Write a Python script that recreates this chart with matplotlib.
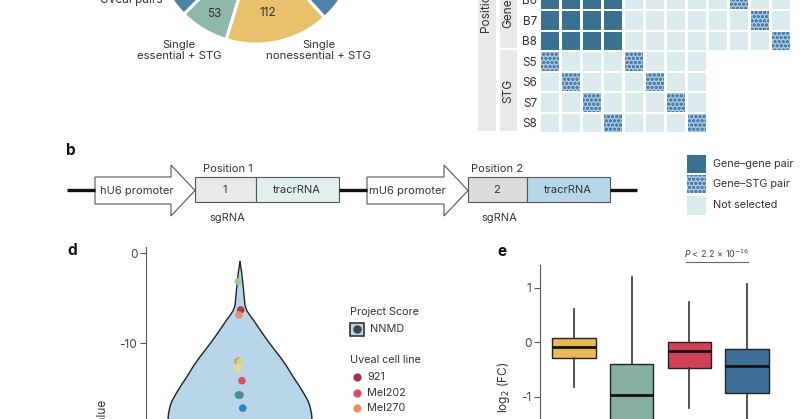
import matplotlib
matplotlib.use('Agg')
import matplotlib.pyplot as plt
from matplotlib.patches import Rectangle, Polygon

plt.rcParams['font.family'] = ['Inter', 'DejaVu Sans']
plt.rcParams['axes.unicode_minus'] = False
plt.rcParams['hatch.linewidth'] = 0.9

# ---------------- data ----------------
pie_labels = ['Single essential + STG', 'Single nonessential + STG', 'Other pairs', 'Uveal pairs']
pie_values = [53, 112, 258, 257]
pie_colors = ['#8fb8aa', '#e9c06b', '#4d82aa', '#4d82aa']

hm_rows = ['B6', 'B7', 'B8', 'S5', 'S6', 'S7', 'S8']
# 0 = none, 1 = not selected, 2 = gene-gene pair, 3 = gene-STG pair
hm_matrix = [
    [2, 2, 2, 2, 1, 1, 1, 1, 1, 3, 1, 1],
    [2, 2, 2, 2, 1, 1, 1, 1, 1, 1, 3, 1],
    [2, 2, 2, 2, 1, 1, 1, 1, 1, 1, 1, 3],
    [3, 1, 1, 1, 3, 1, 1, 1, 0, 0, 0, 0],
    [1, 3, 1, 1, 1, 3, 1, 1, 0, 0, 0, 0],
    [1, 1, 3, 1, 1, 1, 3, 1, 0, 0, 0, 0],
    [1, 1, 1, 3, 1, 1, 1, 3, 0, 0, 0, 0],
]

# violin outline (value, half width)
violin_vals = [-0.93, -2.0, -3.0, -4.0, -5.0, -5.8, -6.4, -6.9, -7.5, -8.5, -9.6,
               -10.5, -11.5, -12.6, -13.7, -14.7, -15.6, -16.4, -17.0, -17.8, -18.5, -19.5]
violin_half = [0.0, 0.016, 0.027, 0.037, 0.045, 0.053, 0.074, 0.106, 0.148, 0.212, 0.286,
               0.350, 0.424, 0.498, 0.562, 0.626, 0.679, 0.721, 0.742, 0.758, 0.764, 0.764]

pt_cells = ['Mel285', '921', 'Mel270', 'Mel270b', 'MP41', 'Mel290', 'Mel202', 'MP46', 'OMM1', '92.1b']
pt_x = [-0.018, 0.007, -0.011, -0.021, 0.0, -0.021, 0.021, 0.0, -0.018, 0.029]
pt_y = [-3.15, -6.3, -6.85, -12.0, -12.1, -12.75, -14.15, -15.75, -15.75, -17.2]
pt_colors = ['#9cc99a', '#a5324c', '#f08c5c', '#f08c5c', '#d5d98a', '#f2d98c',
             '#e04a58', '#7b6bb0', '#3e9a82', '#2b7fc4']

legend_cells = ['921', 'Mel202', 'Mel270']
legend_colors = ['#a5324c', '#e04a58', '#f08c5c']

box_colors = ['#e8b85a', '#85b0a0', '#d0405a', '#3d6f98']
box_med = [-0.08, -0.96, -0.165, -0.43]
box_q1 = [-0.28, -1.6, -0.47, -0.935]
box_q3 = [0.073, -0.40, 0.01, -0.12]
box_wlo = [-0.81, -2.8, -1.21, -2.2]
box_whi = [0.60, 1.20, 0.74, 1.07]

W, H = 800, 419
fig = plt.figure(figsize=(8, 4.19), dpi=100)

def fax(x0, y0, x1, y1, **kw):
    return fig.add_axes([x0 / W, 1 - y1 / H, (x1 - x0) / W, (y1 - y0) / H], **kw)

TXT = '#333333'
DARK = '#3b7190'
LIGHT = '#dbeaed'
HFACE = '#a9c6dd'
HEDGE = '#4a80b0'

# overlay for schematic elements (drawn on top of the other axes)
ov = fax(0, 0, W, H)
ov.set_xlim(0, W)
ov.set_ylim(H, 0)
ov.axis('off')
ov.set_zorder(10)

# ---------------- pie ----------------
pa = fax(154, -160, 358, 44)
pa.pie(pie_values, colors=pie_colors, startangle=225, counterclock=True,
       wedgeprops=dict(edgecolor='white', linewidth=2.2))
pa.set_xlim(-1.0, 1.0)
pa.set_ylim(-1.0, 1.0)
ov.text(214, 14, '53', ha='center', va='center', fontsize=8.5, color=TXT)
ov.text(268, 13, '112', ha='center', va='center', fontsize=8.5, color=TXT)
ov.text(163, 0, 'Uveal pairs', ha='right', va='center', fontsize=8.5, color=TXT)
ov.text(179, 50.5, 'Single\nessential + STG', ha='center', va='center', fontsize=8.2,
        color=TXT, linespacing=1.2)
ov.text(319, 50.5, 'Single\nnonessential + STG', ha='center', va='center', fontsize=8.2,
        color=TXT, linespacing=1.2)

# ---------------- heatmap ----------------
ha = fax(540.7, 0, 800, 135)
ha.set_xlim(0, 259.3 / 21)
ha.set_ylim(147.7 / 21, 12.7 / 21)
cw = 18.7 / 21
for r, row in enumerate(hm_matrix):
    for c, v in enumerate(row):
        if v == 0:
            continue
        if v == 3:
            ha.add_patch(Rectangle((c, r), cw, cw, facecolor=HFACE, edgecolor=HEDGE,
                                   hatch='oooo', linewidth=0))
        else:
            ha.add_patch(Rectangle((c, r), cw, cw, facecolor=DARK if v == 2 else LIGHT,
                                   edgecolor='none'))
ha.set_yticks([r + cw / 2 for r in range(len(hm_rows))])
ha.set_yticklabels(hm_rows)
ha.set_xticks([])
ha.tick_params(axis='y', length=0, pad=2.5, labelsize=8.5, labelcolor=TXT)
for s in ha.spines.values():
    s.set_visible(False)

ov.add_patch(Rectangle((478, -5), 18, 136.3, facecolor='#e8e9eb', edgecolor='none'))
ov.add_patch(Rectangle((500, -5), 17, 52.7, facecolor='#e8e9eb', edgecolor='none'))
ov.add_patch(Rectangle((500, 50.3), 17, 81, facecolor='#e8e9eb', edgecolor='none'))
ov.text(487.5, 33, 'Position 2', rotation=90, ha='center', va='bottom', fontsize=8.5, color=TXT)
ov.text(508.5, 27.5, 'Gene', rotation=90, ha='center', va='bottom', fontsize=8.5, color=TXT)
ov.text(508.5, 91, 'STG', rotation=90, ha='center', va='center', fontsize=8.5, color=TXT)

# ---------------- construct (b) ----------------
ov.text(71, 150, 'b', fontsize=11, fontweight='bold', ha='center', va='center', color='#111')
for x0, x1 in [(67, 95), (339, 367), (610, 637)]:
    ov.plot([x0, x1], [190.5, 190.5], color='#111', lw=2.4, solid_capstyle='butt')
ec = '#555555'
for bx, tip in [(95, 195), (367, 468)]:
    neck = tip - 24
    ov.add_patch(Polygon([(bx, 177), (neck, 177), (neck, 165), (tip, 190.5), (neck, 216),
                          (neck, 204), (bx, 204)], closed=True, facecolor='white',
                         edgecolor=ec, lw=0.8))
ov.add_patch(Rectangle((195, 177), 61, 25.5, facecolor='#e9e9e9', edgecolor=ec, lw=0.8))
ov.add_patch(Rectangle((256, 177), 83, 25.5, facecolor='#e1eff1', edgecolor=ec, lw=0.8))
ov.add_patch(Rectangle((468, 177), 59, 25.5, facecolor='#dcdcdc', edgecolor=ec, lw=0.8))
ov.add_patch(Rectangle((527, 177), 83, 25.5, facecolor='#b6d6ea', edgecolor=ec, lw=0.8))
fs = 8.0
ov.text(137, 190.5, 'hU6 promoter', ha='center', va='center', fontsize=fs, color=TXT)
ov.text(407, 190.5, 'mU6 promoter', ha='center', va='center', fontsize=fs, color=TXT)
ov.text(225, 190, '1', ha='center', va='center', fontsize=fs, color=TXT)
ov.text(497, 190, '2', ha='center', va='center', fontsize=fs, color=TXT)
ov.text(297, 190, 'tracrRNA', ha='center', va='center', fontsize=fs, color=TXT)
ov.text(568, 190, 'tracrRNA', ha='center', va='center', fontsize=fs, color=TXT)
ov.text(228, 169, 'Position 1', ha='center', va='center', fontsize=fs, color=TXT)
ov.text(497, 169, 'Position 2', ha='center', va='center', fontsize=fs, color=TXT)
ov.text(227, 218, 'sgRNA', ha='center', va='center', fontsize=fs, color=TXT)
ov.text(499, 218, 'sgRNA', ha='center', va='center', fontsize=fs, color=TXT)

# heatmap legend
ov.add_patch(Rectangle((687, 155), 19, 18, facecolor=DARK, edgecolor='none'))
ov.add_patch(Rectangle((687, 175), 19, 18, facecolor=HFACE, edgecolor=HEDGE, hatch='oooo', lw=0))
ov.add_patch(Rectangle((687, 196), 19, 19, facecolor=LIGHT, edgecolor='none'))
ov.text(713, 164, 'Gene–gene pair', ha='left', va='center', fontsize=7.8, color=TXT)
ov.text(713, 184, 'Gene–STG pair', ha='left', va='center', fontsize=7.8, color=TXT)
ov.text(713, 205, 'Not selected', ha='left', va='center', fontsize=7.8, color=TXT)

# ---------------- violin (d) ----------------
ov.text(72, 250, 'd', fontsize=11, fontweight='bold', ha='center', va='center', color='#111')
da = fax(145.7, 247, 334.3, 523.3)
da.set_xlim(-1, 1)
da.set_ylim(-30, 0.7)
da.fill_betweenx(violin_vals, [-h for h in violin_half], violin_half,
                 facecolor='#b8d5ea', edgecolor='none', zorder=1)
da.plot(violin_half, violin_vals, color='#222', lw=1.0, zorder=2)
da.plot([-h for h in violin_half], violin_vals, color='#222', lw=1.0, zorder=2)
for x, y, c in zip(pt_x, pt_y, pt_colors):
    da.scatter([x], [y], s=30, color=c, edgecolors='none', zorder=3, alpha=0.95)
da.set_yticks([0, -10, -20])
da.set_xticks([])
for s in ['top', 'right', 'bottom']:
    da.spines[s].set_visible(False)
da.spines['left'].set_color('#555')
da.spines['left'].set_linewidth(0.8)
da.tick_params(axis='y', length=4, width=0.8, color='#555', labelsize=8.5, labelcolor='#444', pad=2)
ov.text(103, 400, 'NNMD value', rotation=90, ha='center', va='top', fontsize=8.5, color=TXT)

ov.text(350, 311.7, 'Project Score', ha='left', va='center', fontsize=7.8, color=TXT)
ov.add_patch(Rectangle((350, 322.7), 14, 13.3, facecolor='#b8d5ea', edgecolor='#333', lw=1.2))
ov.scatter([357], [329.3], s=26, color='#36454f', zorder=5)
ov.text(370, 329.3, 'NNMD', ha='left', va='center', fontsize=7.8, color=TXT)
ov.text(350, 360, 'Uveal cell line', ha='left', va='center', fontsize=7.8, color=TXT)
for i, (lab, col) in enumerate(zip(legend_cells, legend_colors)):
    yy = 377.3 + i * 15.2
    ov.scatter([357.3], [yy], s=24, color=col, zorder=5)
    ov.text(367, yy, lab, ha='left', va='center', fontsize=7.8, color=TXT)

# ---------------- boxplot (e) ----------------
ov.text(502, 251, 'e', fontsize=11, fontweight='bold', ha='center', va='center', color='#111')
ea = fax(540, 265, 800, 506.4)
stats = []
for i in range(4):
    stats.append(dict(med=box_med[i], q1=box_q1[i], q3=box_q3[i],
                      whislo=box_wlo[i], whishi=box_whi[i], fliers=[]))
bp = ea.bxp(stats, positions=[1, 2, 3, 4], widths=0.75, patch_artist=True,
            showcaps=False, showfliers=False,
            boxprops=dict(edgecolor='#222', linewidth=1.0),
            medianprops=dict(color='#111', linewidth=2.0),
            whiskerprops=dict(color='#333', linewidth=1.2))
for patch, col in zip(bp['boxes'], box_colors):
    patch.set_facecolor(col)
ea.set_xlim(0.4104, 4.919)
ea.set_ylim(-3, 1.413)
ea.set_yticks([1, 0, -1, -2])
ea.set_xticks([])
for s in ['top', 'right', 'bottom']:
    ea.spines[s].set_visible(False)
ea.spines['left'].set_color('#555')
ea.spines['left'].set_linewidth(0.8)
ea.tick_params(axis='y', length=4, width=0.8, color='#555', labelsize=8.5, labelcolor='#444', pad=2)
ov.text(504, 387, r'log$_2$ (FC)', rotation=90, ha='center', va='center', fontsize=8.5, color=TXT)
ov.plot([685.7, 747.7], [261.7, 261.7], color='#666', lw=0.8)
ov.text(716.7, 254, r'$\it{P}$ < 2.2 × 10$^{-16}$', ha='center', va='center',
        fontsize=6.5, color='#444')

fig.savefig('out.png', dpi=100)
